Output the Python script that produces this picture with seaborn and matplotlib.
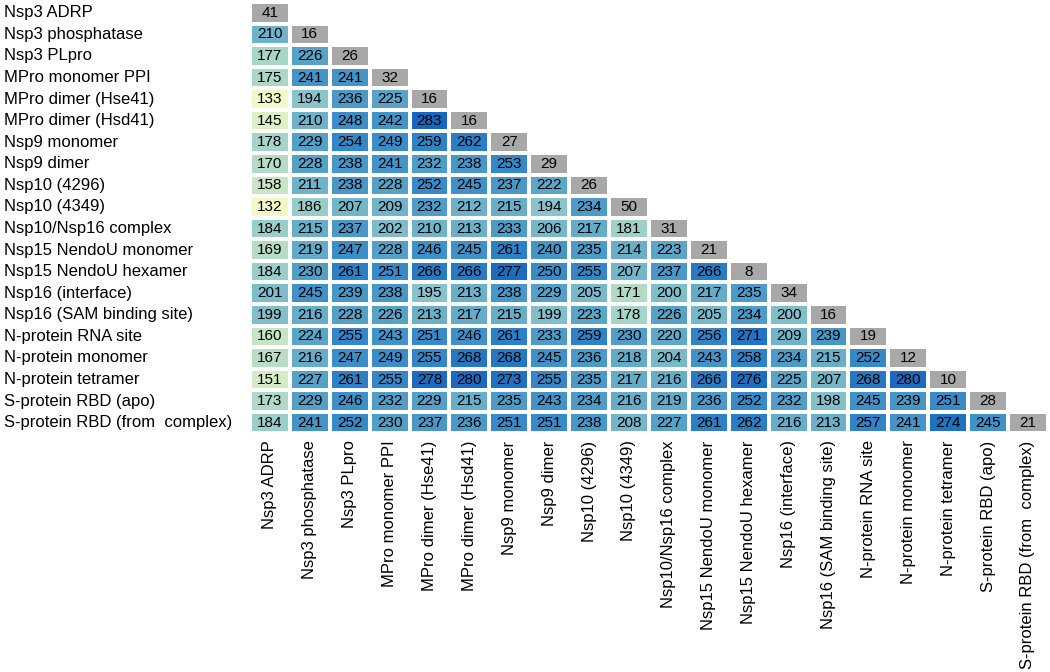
import numpy as np
import pandas as pd
import seaborn as sns
import matplotlib.pyplot as plt
from matplotlib.colors import LinearSegmentedColormap, ListedColormap

labels = [
    "Nsp3 ADRP", "Nsp3 phosphatase", "Nsp3 PLpro", "MPro monomer PPI",
    "MPro dimer (Hse41)", "MPro dimer (Hsd41)", "Nsp9 monomer", "Nsp9 dimer",
    "Nsp10 (4296)", "Nsp10 (4349)", "Nsp10/Nsp16 complex",
    "Nsp15 NendoU monomer", "Nsp15 NendoU hexamer", "Nsp16 (interface)",
    "Nsp16 (SAM binding site)", "N-protein RNA site", "N-protein monomer",
    "N-protein tetramer", "S-protein RBD (apo)", "S-protein RBD (from  complex)",
]

# lower triangle, row by row; last value of each row is the diagonal
rows = [
    [41],
    [210, 16],
    [177, 226, 26],
    [175, 241, 241, 32],
    [133, 194, 236, 225, 16],
    [145, 210, 248, 242, 283, 16],
    [178, 229, 254, 249, 259, 262, 27],
    [170, 228, 238, 241, 232, 238, 253, 29],
    [158, 211, 238, 228, 252, 245, 237, 222, 26],
    [132, 186, 207, 209, 232, 212, 215, 194, 234, 50],
    [184, 215, 237, 202, 210, 213, 233, 206, 217, 181, 31],
    [169, 219, 247, 228, 246, 245, 261, 240, 235, 214, 223, 21],
    [184, 230, 261, 251, 266, 266, 277, 250, 255, 207, 237, 266, 8],
    [201, 245, 239, 238, 195, 213, 238, 229, 205, 171, 200, 217, 235, 34],
    [199, 216, 228, 226, 213, 217, 215, 199, 223, 178, 226, 205, 234, 200, 16],
    [160, 224, 255, 243, 251, 246, 261, 233, 259, 230, 220, 256, 271, 209, 239, 19],
    [167, 216, 247, 249, 255, 268, 268, 245, 236, 218, 204, 243, 258, 234, 215, 252, 12],
    [151, 227, 261, 255, 278, 280, 273, 255, 235, 217, 216, 266, 276, 225, 207, 268, 280, 10],
    [173, 229, 246, 232, 229, 215, 235, 243, 234, 216, 219, 236, 252, 232, 198, 245, 239, 251, 28],
    [184, 241, 252, 230, 237, 236, 251, 251, 238, 208, 227, 261, 262, 216, 213, 257, 241, 274, 245, 21],
]

n = len(labels)
mat = np.full((n, n), np.nan)
for i, r in enumerate(rows):
    mat[i, :len(r)] = r
df = pd.DataFrame(mat, index=labels, columns=labels)

off_mask = np.triu(np.ones((n, n), dtype=bool))        # hide diagonal + upper
diag_mask = ~np.eye(n, dtype=bool)                      # only diagonal

cmap = LinearSegmentedColormap.from_list(
    "blues", ["#f6fac6", "#c4e4c4", "#8cc6cc", "#5aa6c8", "#3488c8", "#1464be"])

plt.rcParams['font.family'] = ['Liberation Sans', 'DejaVu Sans']
fig = plt.figure(figsize=(10.5, 6.72), dpi=100)
ax = fig.add_axes([0.238, 0.355, 0.76, 0.642])

annot_kws = {"fontsize": 11, "color": "black"}
sns.heatmap(df, mask=off_mask, cmap=cmap, vmin=130, vmax=285, annot=True, fmt=".0f",
            annot_kws=annot_kws, linewidths=1.5, linecolor="white", cbar=False,
            square=False, ax=ax)
sns.heatmap(df, mask=diag_mask, cmap=ListedColormap(["#a8a8a8"]), annot=True, fmt=".0f",
            annot_kws=annot_kws, linewidths=1.5, linecolor="white", cbar=False, ax=ax)

ax.set_xticks(np.arange(n) + 0.5)
ax.set_xticklabels(labels, rotation=90, fontsize=12, va="top", ha="center")
ax.set_yticks(np.arange(n) + 0.5)
ax.set_yticklabels(labels, rotation=0, fontsize=12, ha="left", va="center")
ax.tick_params(axis="y", length=0, pad=177)
ax.tick_params(axis="x", length=0, pad=5)
ax.set_xlabel("")
ax.set_ylabel("")

fig.savefig("out.png", dpi=100)
